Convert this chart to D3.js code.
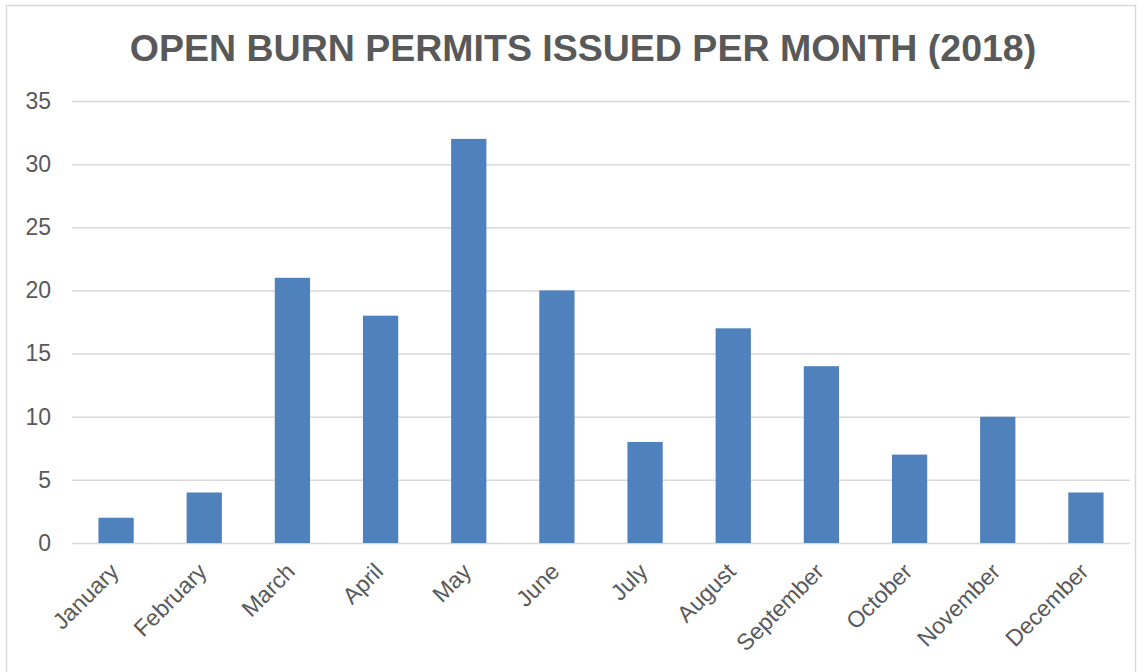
<!DOCTYPE html>
<html>
<head>
<meta charset="UTF-8">
<title>Open burn permits</title>
<script src="https://cdn.jsdelivr.net/npm/d3@7"></script>
<style>
body { margin:0; background:#fff; font-family:"Liberation Sans",Arial,sans-serif; }
text { fill:#595959; }
</style>
</head>
<body>
<svg id="chart" width="1145" height="672"></svg>
<script>
// data
var months = ["January","February","March","April","May","June","July","August","September","October","November","December"];
var permits = [2,4,21,18,32,20,8,17,14,7,10,4];
var yTicks = [0,5,10,15,20,25,30,35];
var title = "OPEN BURN PERMITS ISSUED PER MONTH (2018)";

var svg = d3.select("#chart");
var m = {l:72, r:15, t:101, b:129};
var W = 1145, H = 672;
var font = "Liberation Sans, Arial, sans-serif";

// outer frame
svg.append("rect").attr("x",6.5).attr("y",5.5).attr("width",1129).attr("height",700)
  .attr("fill","#fff").attr("stroke","#d9d9d9").attr("stroke-width",1.5);

var x = d3.scaleBand().domain(months).range([m.l, W-m.r]).paddingInner(0.6).paddingOuter(0.3);
var y = d3.scaleLinear().domain([0,35]).range([H-m.b, m.t]);

svg.append("text").attr("x",583).attr("y",61).attr("text-anchor","middle")
  .style("font-size","37.5px").style("font-weight","bold").style("font-family",font).text(title);

// grid + y labels
var yax = svg.append("g").attr("transform","translate("+m.l+",0)")
  .call(d3.axisLeft(y).tickValues(yTicks).tickSize(-(W-m.l-m.r)).tickPadding(21));
yax.select(".domain").remove();
yax.selectAll("line").attr("stroke","#d9d9d9").attr("stroke-width",1.5);
yax.selectAll("text").style("font-size","23px").style("font-family",font).attr("fill","#595959");

svg.append("g").selectAll("rect").data(permits).enter().append("rect")
  .attr("x",function(d,i){return x(months[i]);})
  .attr("width",x.bandwidth())
  .attr("y",function(d){return y(d);})
  .attr("height",function(d){return y(0)-y(d);})
  .attr("fill","#4f81bd");

// x labels rotated
var xax = svg.append("g").attr("transform","translate(0,"+y(0)+")")
  .call(d3.axisBottom(x).tickSize(0).tickPadding(0));
xax.select(".domain").remove();
xax.selectAll("text")
  .style("font-size","23px").style("font-family",font)
  .attr("fill","#595959")
  .attr("text-anchor","end")
  .attr("dy",0)
  .attr("transform","translate(4,30) rotate(-45)");
</script>
</body>
</html>
